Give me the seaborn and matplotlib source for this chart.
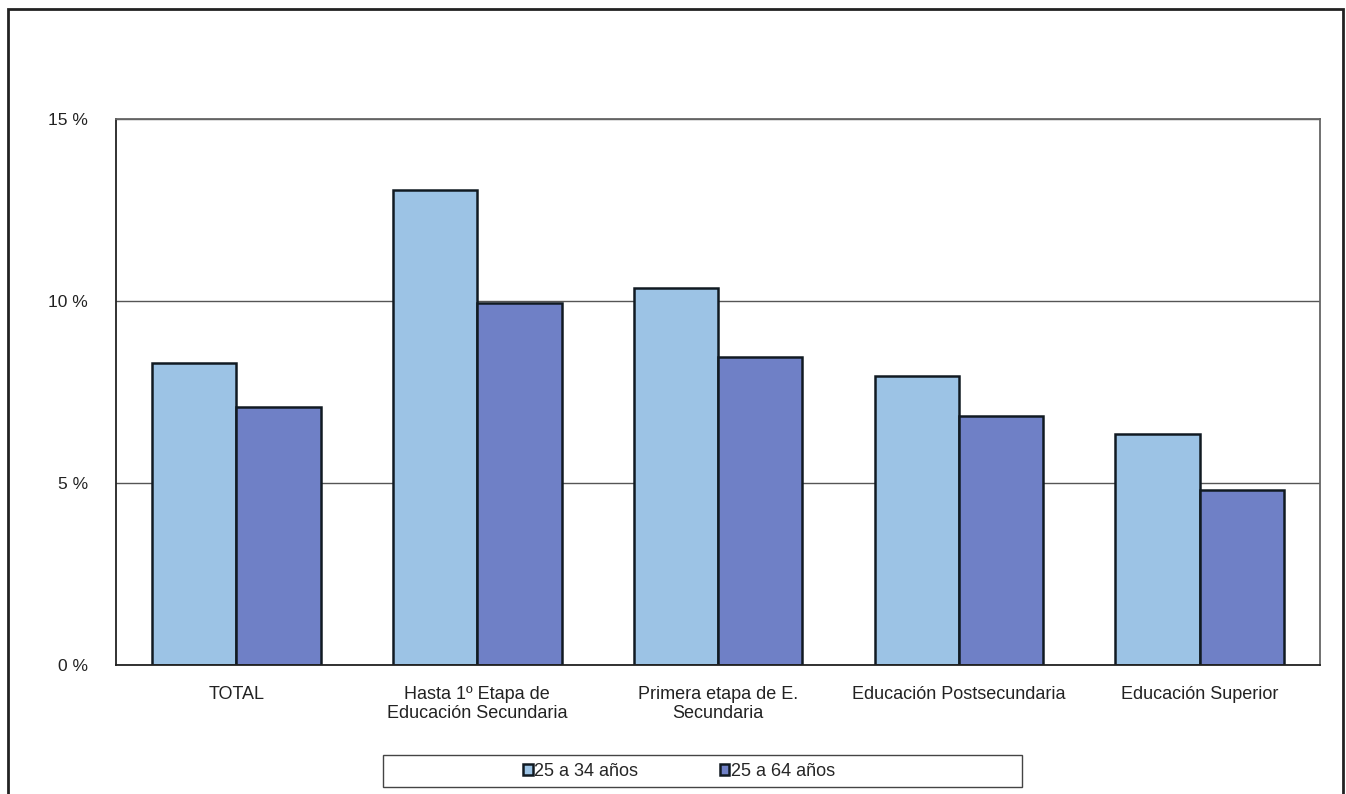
import pandas as pd
import seaborn as sns
from matplotlib import pyplot as plt
from matplotlib.patches import Rectangle

# data
categorias = ['TOTAL', 'Hasta 1º Etapa de\nEducación Secundaria', 'Primera etapa de E.\nSecundaria',
              'Educación Postsecundaria', 'Educación Superior']
edad_25_34 = [8.3, 13.05, 10.35, 7.95, 6.35]
edad_25_64 = [7.1, 9.95, 8.45, 6.85, 4.8]
series = ['25 a 34 años', '25 a 64 años']
colores = ['#9cc3e5', '#6f80c6']

df = pd.DataFrame({
    'categoria': categorias * 2,
    'valor': edad_25_34 + edad_25_64,
    'grupo': [series[0]] * len(categorias) + [series[1]] * len(categorias),
})

sns.set_style('white')
plt.rcParams['font.family'] = ['Liberation Sans', 'DejaVu Sans']

fig = plt.figure(figsize=(13.46, 7.94), dpi=100)
ax = fig.add_axes([0.0862, 0.1625, 0.8945, 0.6876])

sns.barplot(data=df, x='categoria', y='valor', hue='grupo', palette=colores, saturation=1,
            width=0.7, edgecolor='#111a22', linewidth=1.8, ax=ax, legend=True)

ax.set_ylim(0, 15)
ax.set_yticks([0, 5, 10, 15])
ax.set_yticklabels(['0 %', '5 %', '10 %', '15 %'])
ax.yaxis.grid(True, color='#555555', linewidth=1.0)
ax.set_axisbelow(True)
ax.set_xlabel('')
ax.set_ylabel('')
ax.tick_params(axis='y', length=0, pad=20, labelsize=12.5, labelcolor='#222222')
ax.tick_params(axis='x', length=0, pad=15, labelsize=13, labelcolor='#222222')
for lab in ax.get_xticklabels():
    lab.set_multialignment('center')

ax.spines['left'].set_color('#222222')
ax.spines['bottom'].set_color('#222222')
ax.spines['top'].set_color('#666666')
ax.spines['right'].set_color('#666666')
for s in ax.spines.values():
    s.set_linewidth(1.3)

# legend in its own wide box under the chart
handles, labels = ax.get_legend_handles_labels()
ax.get_legend().remove()
fig.patches.append(Rectangle((383 / 1346, 1 - 787 / 794), 639 / 1346, 32 / 794,
                             transform=fig.transFigure, facecolor='white',
                             edgecolor='#444444', linewidth=1.0))
fig.legend(handles, labels, loc='center', bbox_to_anchor=(679 / 1346, 1 - 771 / 794),
           ncol=2, frameon=False, fontsize=13, handlelength=0.55, handleheight=0.55,
           handletextpad=0.1, columnspacing=4.5)

# outer frame around the figure
fig.patches.append(Rectangle((8 / 1346, -0.02), 1335 / 1346, 1.02 - 9 / 794,
                             transform=fig.transFigure, fill=False,
                             edgecolor='#222222', linewidth=2.0))

fig.savefig('out.png', dpi=100)
